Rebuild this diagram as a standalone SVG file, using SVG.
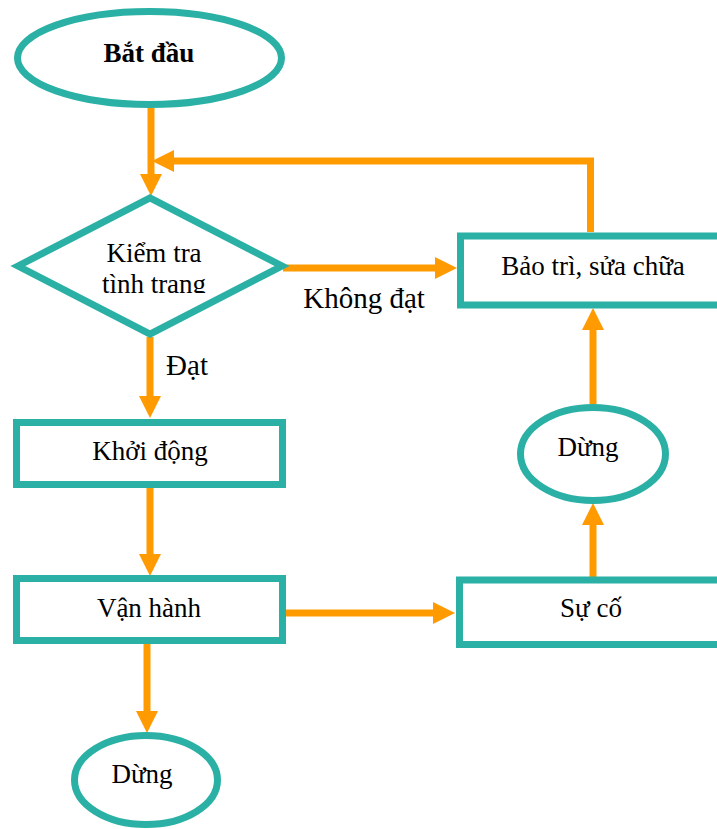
<svg xmlns="http://www.w3.org/2000/svg" width="717" height="829" viewBox="0 0 717 829">
<style>
.n{fill:#fff;stroke:#2AB0A5;stroke-width:7}
.c{fill:none;stroke:#FF9B00;stroke-width:7;marker-end:url(#ah)}
text{font-family:"Liberation Serif","Times New Roman",serif;font-size:27px;fill:#000;text-anchor:middle}
.lb{font-size:29px}
</style>
<defs>
<marker id="ah" markerUnits="userSpaceOnUse" markerWidth="24" markerHeight="24" viewBox="0 -12 24 24" refX="1" refY="0" orient="auto">
<path d="M0,-11 L22,0 L0,11 z" fill="#FF9B00"/>
</marker>
<clipPath id="dclip"><rect x="0" y="180" width="300" height="113"/></clipPath>
</defs>
<rect width="717" height="829" fill="#fff"/>
<g id="connectors">
<line class="c" x1="151" y1="108" x2="151" y2="175"/>
<polyline class="c" points="590.5,232 590.5,161 173,161"/>
<line class="c" x1="283" y1="268" x2="436" y2="268"/>
<line class="c" x1="150" y1="337" x2="150" y2="397"/>
<line class="c" x1="150" y1="488" x2="150" y2="555"/>
<line class="c" x1="286" y1="613" x2="434" y2="613"/>
<line class="c" x1="147" y1="644" x2="147" y2="712"/>
<line class="c" x1="593" y1="577" x2="593" y2="524"/>
<line class="c" x1="593" y1="404" x2="593" y2="329"/>
</g>
<g id="start">
<ellipse class="n" cx="149.5" cy="58" rx="132" ry="46.5"/>
<text x="149" y="62" font-weight="bold">Bắt đầu</text>
</g>
<g id="check">
<polygon class="n" points="18,266 150,198 282,266 150,334"/>
<g clip-path="url(#dclip)">
<text x="154" y="262">Kiểm tra</text>
<text x="154" y="293">tình trang</text>
</g>
</g>
<g id="start-up">
<rect class="n" x="16.5" y="422.5" width="266" height="62"/>
<text x="150" y="460">Khởi động</text>
</g>
<g id="operate">
<rect class="n" x="16.5" y="578.5" width="266" height="62"/>
<text x="149" y="617">Vận hành</text>
</g>
<g id="stop1">
<ellipse class="n" cx="146" cy="780" rx="71.5" ry="44.5"/>
<text x="142" y="783">Dừng</text>
</g>
<g id="incident">
<rect class="n" x="459.5" y="580" width="300" height="64.5"/>
<text x="591" y="617">Sự cố</text>
</g>
<g id="stop2">
<ellipse class="n" cx="593" cy="454" rx="72.5" ry="46.5"/>
<text x="588" y="456">Dừng</text>
</g>
<g id="repair">
<rect class="n" x="460.5" y="236" width="300" height="69"/>
<text x="593" y="275">Bảo trì, sửa chữa</text>
</g>
<g id="labels">
<text class="lb" x="364" y="308">Không đạt</text>
<text class="lb" x="187" y="375">Đạt</text>
</g>
</svg>
